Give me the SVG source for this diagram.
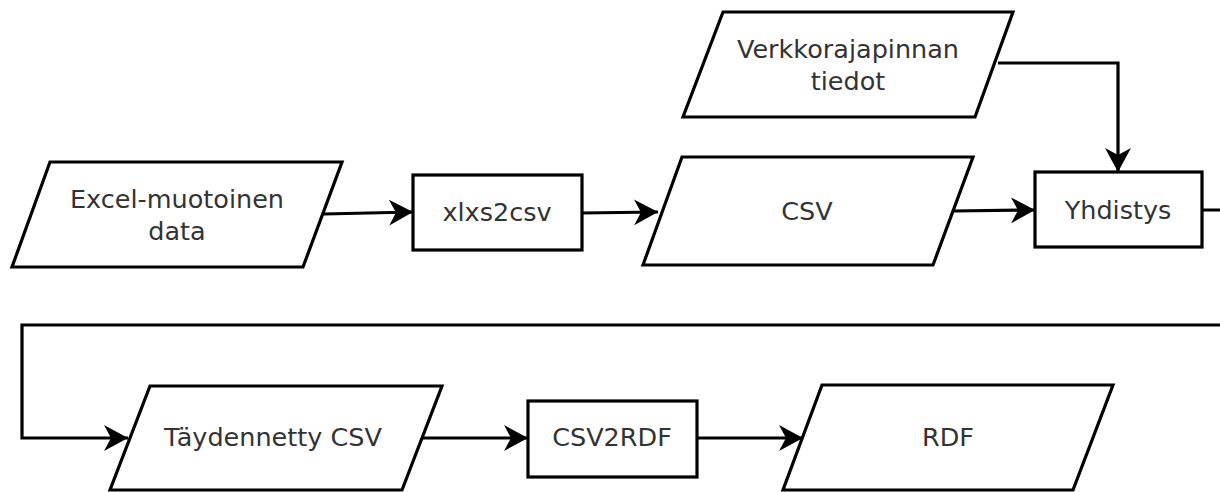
<svg xmlns="http://www.w3.org/2000/svg" width="1220" height="492" viewBox="0 0 1220 492">
<style>
.shape{fill:#fff;stroke:#000;stroke-width:3.2;stroke-linejoin:miter}
.conn{fill:none;stroke:#000;stroke-width:3.2}
.label{font-family:"DejaVu Sans",sans-serif;font-size:25.5px;fill:#333;text-anchor:middle;dominant-baseline:central}
</style>
<defs>
<marker id="arr" markerUnits="userSpaceOnUse" markerWidth="26" markerHeight="28" refX="24" refY="13" orient="auto">
<path d="M0,0 L24,13 L0,26 L7,13 z" fill="#000"/>
</marker>
</defs>
<rect width="1220" height="492" fill="#fff"/>
<g id="connectors">
<path class="conn" d="M324,214 L413,212" marker-end="url(#arr)"/>
<path class="conn" d="M582,213 L658,212" marker-end="url(#arr)"/>
<path class="conn" d="M953,211 L1035,210" marker-end="url(#arr)"/>
<path class="conn" d="M998,63 H1118 V172" marker-end="url(#arr)"/>
<path class="conn" d="M1202,210 H1240 V325 H22 V438 H128" marker-end="url(#arr)"/>
<path class="conn" d="M423,438 H528" marker-end="url(#arr)"/>
<path class="conn" d="M697,438 H803" marker-end="url(#arr)"/>
</g>
<g id="excel">
<polygon class="shape" points="50,162 342,162 303,267 12,267"/>
<text class="label" x="177" y="199">Excel-muotoinen</text>
<text class="label" x="177" y="231">data</text>
</g>
<g id="xlxs2csv">
<rect class="shape" x="413" y="175" width="169" height="75"/>
<text class="label" x="497" y="212">xlxs2csv</text>
</g>
<g id="csv">
<polygon class="shape" points="682,157 973,157 933,265 643,265"/>
<text class="label" x="807" y="211">CSV</text>
</g>
<g id="verkko">
<polygon class="shape" points="723,12 1013,12 975,117 683,117"/>
<text class="label" x="848" y="49">Verkkorajapinnan</text>
<text class="label" x="848" y="81">tiedot</text>
</g>
<g id="yhdistys">
<rect class="shape" x="1035" y="172" width="167" height="75"/>
<text class="label" x="1118" y="210">Yhdistys</text>
</g>
<g id="taydennetty">
<polygon class="shape" points="150,386 442,386 402,490 110,490"/>
<text class="label" x="273" y="437">Täydennetty CSV</text>
</g>
<g id="csv2rdf">
<rect class="shape" x="528" y="401" width="169" height="76"/>
<text class="label" x="612" y="437">CSV2RDF</text>
</g>
<g id="rdf">
<polygon class="shape" points="822,385 1113,385 1073,490 783,490"/>
<text class="label" x="948" y="437">RDF</text>
</g>
</svg>
